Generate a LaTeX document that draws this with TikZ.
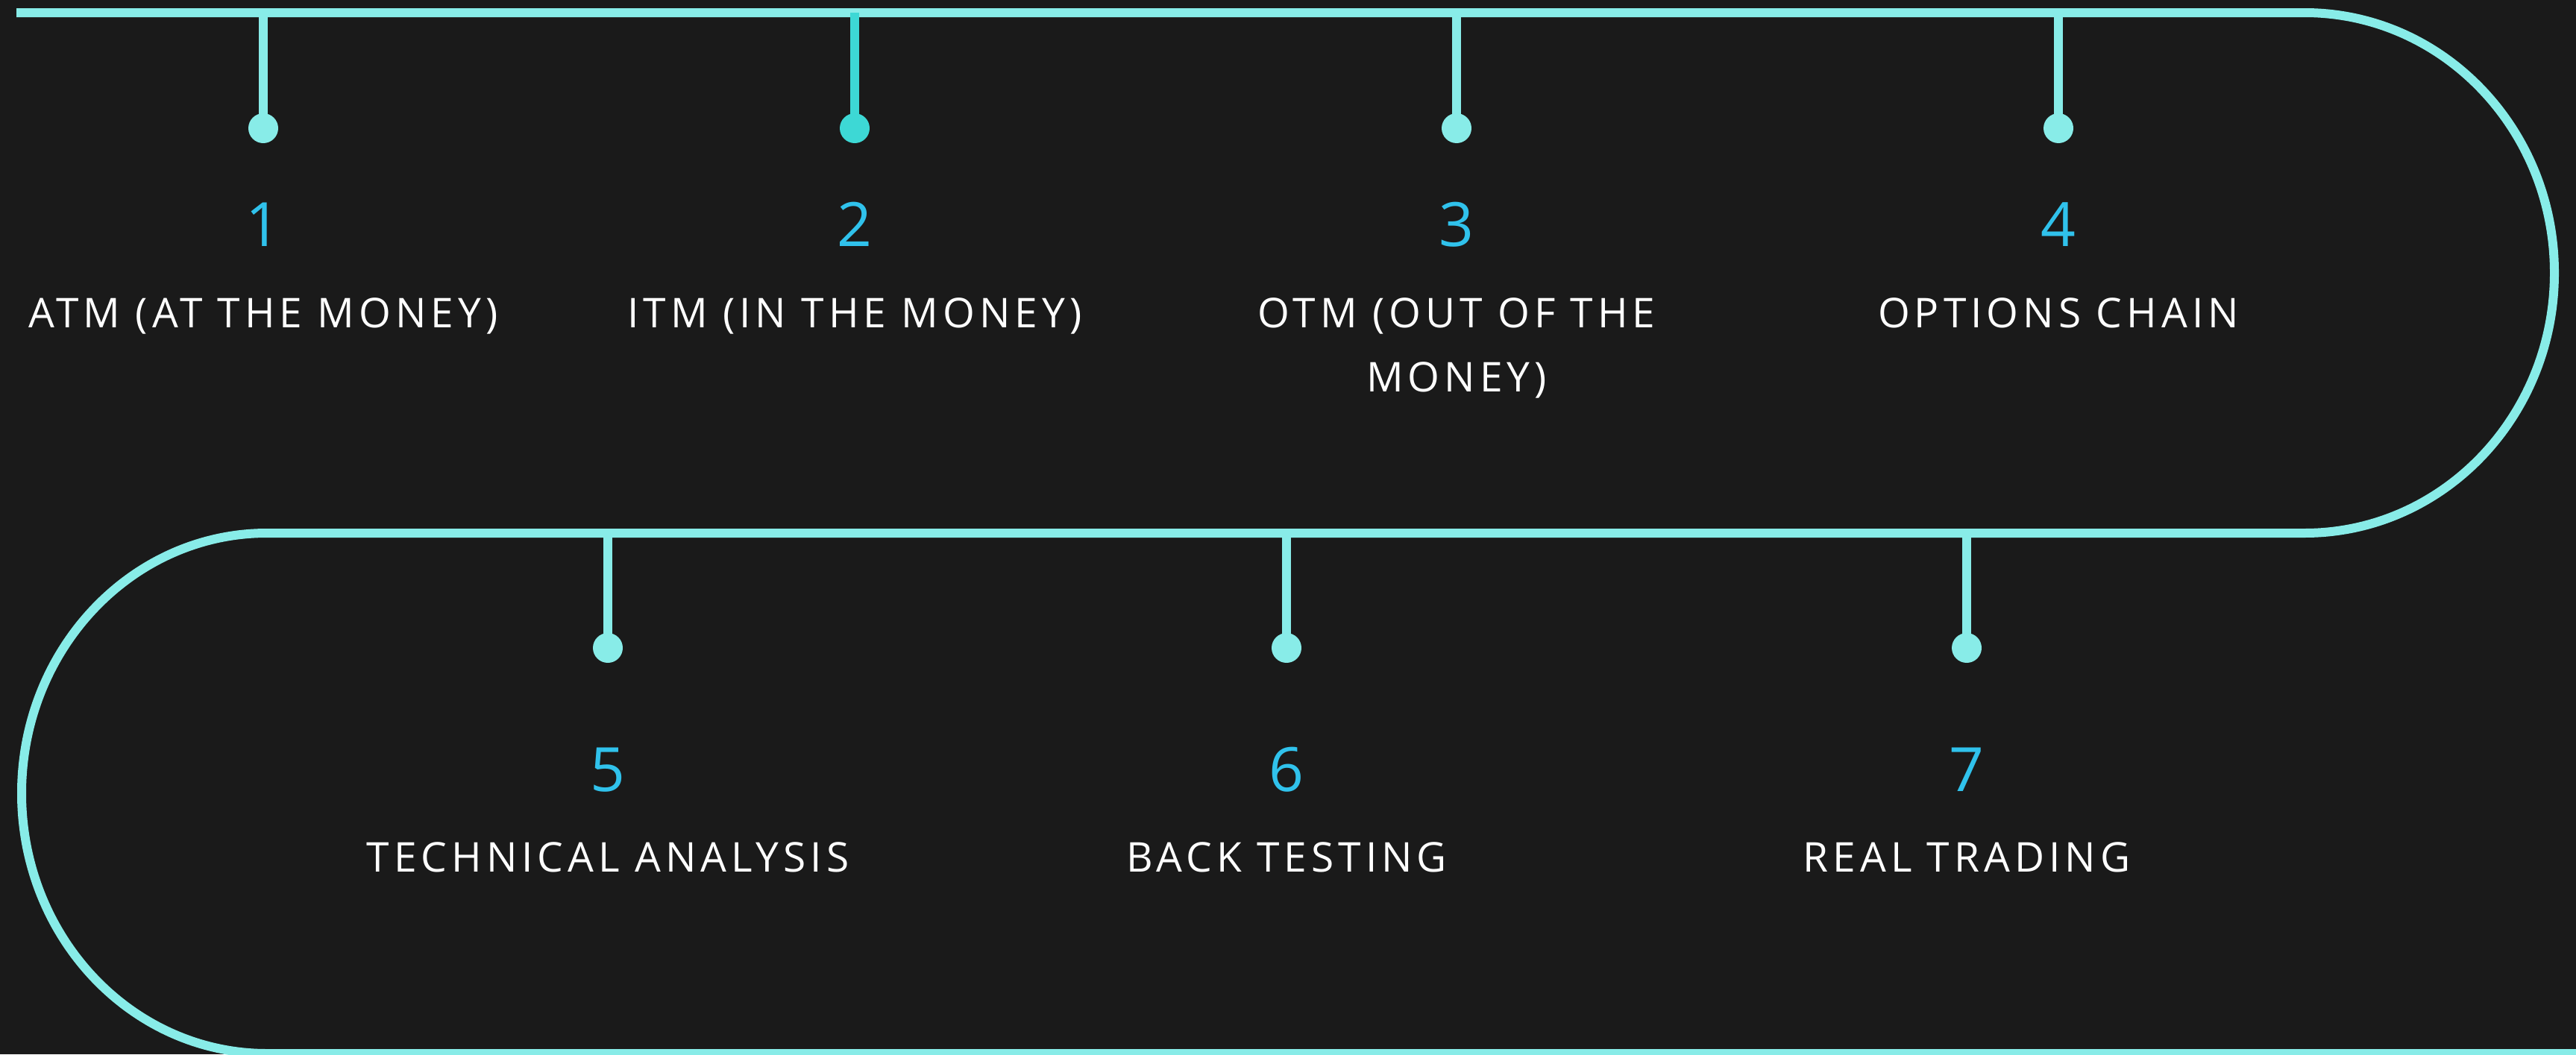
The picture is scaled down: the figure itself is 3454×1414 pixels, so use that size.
\documentclass[tikz,border=0pt]{standalone}
\usepackage{fontspec}
\setmainfont{Open Sans}[LetterSpace=11]
\definecolor{bgc}{HTML}{1A1A1A}
\definecolor{trackc}{HTML}{88ECE8}
\definecolor{stemtwo}{HTML}{3DD8D5}
\definecolor{numc}{HTML}{30C2EC}
\tikzset{
  track/.style={draw=trackc, line width=6pt},
  stemline/.style={draw=trackc, line width=6pt},
  dotc/.style={circle, fill=trackc, minimum size=20pt, inner sep=0pt},
  numtext/.style={anchor=base, text=numc, font=\fontsize{41}{49}\selectfont, inner sep=0pt},
  labtext/.style={anchor=base, text=white, font=\fontsize{27.5}{43}\selectfont, align=center, inner sep=0pt}
}
\begin{document}
\begin{tikzpicture}[x=0.5pt,y=-0.5pt]
\fill[bgc] (0,0) rectangle (3454,1414);
\useasboundingbox (0,0) rectangle (3454,1414);
% main track
\coordinate (start) at (22,17);
\coordinate (ra) at (3090,17);
\coordinate (la) at (358,715);
\coordinate (endp) at (3470,1413);
\draw[track] (start) -- (ra) arc[start angle=-90, end angle=90, x radius=335, y radius=349] -- (la) arc[start angle=270, end angle=90, x radius=329, y radius=349] -- (endp);
% row 1
\foreach \i/\x/\n/\t/\y in {1/353/1/{ATM (AT THE MONEY)}/439, 3/1953/3/{OTM (OUT OF THE\\MONEY)}/525, 4/2760/4/{OPTIONS CHAIN}/439}{
  \coordinate (t\i) at (\x,17);
  \node[dotc] (d\i) at (\x,172) {};
  \draw[stemline] (t\i) -- (d\i.center);
  \node[numtext] (n\i) at (\x,330) {\n};
  \node[labtext] (l\i) at (\x,\y) {\t};
}
\coordinate (t2) at (1146,17);
\node[dotc, fill=stemtwo] (d2) at (1146,172) {};
\draw[stemline, draw=stemtwo] (t2) -- (d2.center);
\node[numtext] (n2) at (1146,330) {2};
\node[labtext] (l2) at (1146,439) {ITM (IN THE MONEY)};
% row 2
\foreach \i/\x/\n/\t in {5/815/5/{TECHNICAL ANALYSIS}, 6/1725/6/{BACK TESTING}, 7/2637/7/{REAL TRADING}}{
  \coordinate (t\i) at (\x,715);
  \node[dotc] (d\i) at (\x,869) {};
  \draw[stemline] (t\i) -- (d\i.center);
  \node[numtext] (n\i) at (\x,1061) {\n};
  \node[labtext] (l\i) at (\x,1169) {\t};
}
\end{tikzpicture}
\end{document}
